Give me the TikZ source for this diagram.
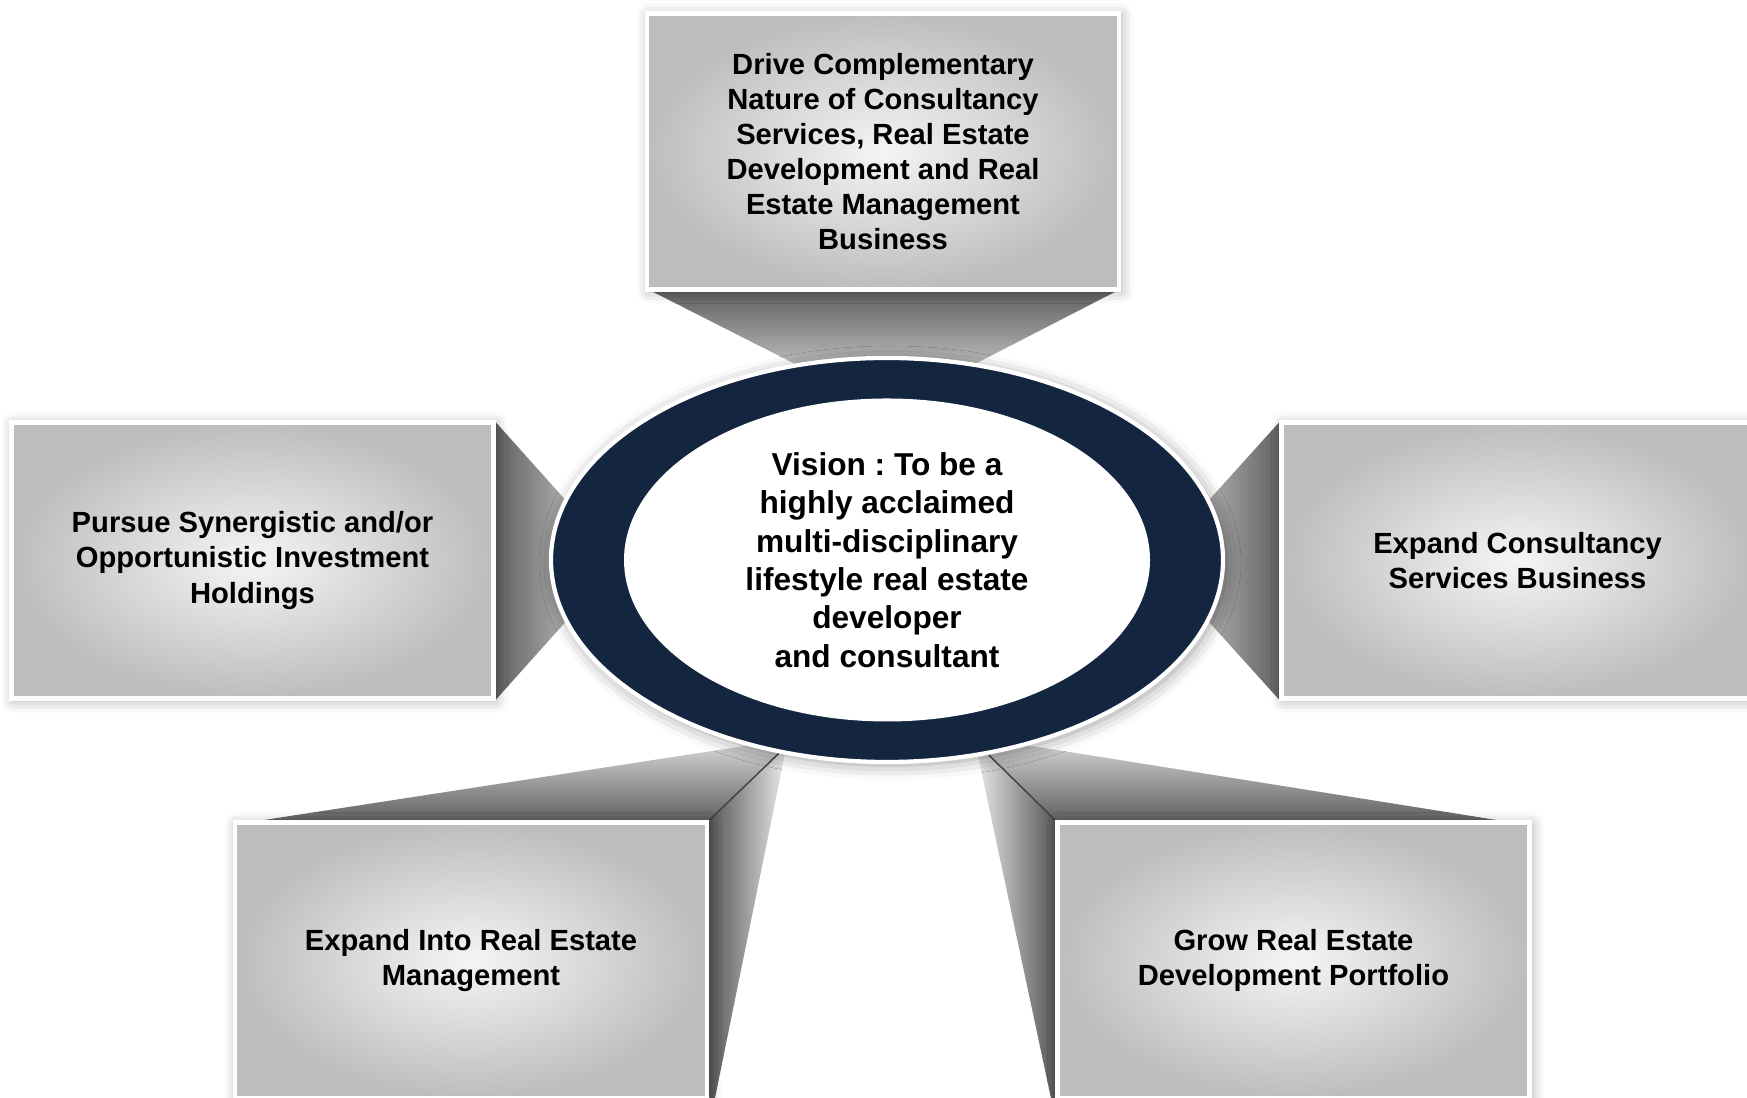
\documentclass[tikz,border=0pt]{standalone}
\usepackage{fontspec}
\setmainfont{Liberation Sans}
\frenchspacing
\usetikzlibrary{shapes.geometric,shadows.blur,backgrounds}
\definecolor{visionnavy}{RGB}{20,37,64}

\begin{document}
\begin{tikzpicture}[
    goal/.style={draw=white, line width=1.3pt, rectangle, minimum width=4.72cm, minimum height=2.76cm,
        inner color=black!4, outer color=black!26, align=center,
        font=\bfseries\fontsize{8.3}{10}\selectfont,
        blur shadow={shadow xshift=0.02cm, shadow yshift=-0.02cm, shadow blur radius=0.12cm, shadow opacity=35}},
    fold/.style={draw=black!75, line width=0.4pt}
]
\useasboundingbox (0,0) rectangle (17.47,10.98);

% Goal boxes
\node[goal] (drive) at (8.83,9.465) {Drive Complementary\\Nature of Consultancy\\Services, Real Estate\\Development and Real\\Estate Management\\Business};
\node[goal, minimum width=4.82cm] (pursue) at (2.525,5.375) {Pursue Synergistic and/or\\Opportunistic Investment\\Holdings};
\node[goal] (consult) at (15.175,5.375) {Expand Consultancy\\Services Business};
\node[goal] (manage) at (4.71,1.375) {Expand Into Real Estate\\Management};
\node[goal] (grow) at (12.935,1.375) {Grow Real Estate\\Development Portfolio};

% Vision ellipse
\node[ellipse, fill=visionnavy, draw=white, line width=1.2pt, minimum width=6.72cm, minimum height=4.04cm,
    blur shadow={shadow xshift=0.03cm, shadow yshift=-0.03cm, shadow blur radius=0.15cm, shadow opacity=40}] (ring) at (8.87,5.38) {};
\node[ellipse, fill=white, minimum width=5.26cm, minimum height=3.23cm] (vision) at (ring.center) {};
\node[align=center, font=\bfseries\fontsize{9}{10.9}\selectfont] (visiontext) at (vision.center)
    {Vision : To be a\\highly acclaimed\\multi-disciplinary\\lifestyle real estate\\developer\\and consultant};

% Funnels behind everything
\begin{scope}[on background layer]
\coordinate (driveL) at (8.66,6.98);
\coordinate (driveR) at (9.05,6.98);
\coordinate (pursueTip) at (6.20,5.37);
\coordinate (consultTip) at (11.54,5.37);
\coordinate (manageTop) at (7.86,3.584);
\coordinate (manageTip) at (7.865,3.52);
\coordinate (manageFoot) at (7.14,-0.05);
\coordinate (growTop) at (9.75,3.61);
\coordinate (growTip) at (9.75,3.565);
\coordinate (growFoot) at (10.52,-0.05);

\shade[top color=black!62, bottom color=black!10]
    ([xshift=0.08cm]drive.south west) -- ([xshift=-0.06cm]drive.south east) -- (driveR) -- (driveL) -- cycle;
\shade[left color=black!62, right color=black!10]
    ([yshift=-0.02cm]pursue.north east) -- (pursueTip) -- ([yshift=0.01cm]pursue.south east) -- cycle;
\shade[right color=black!62, left color=black!10]
    ([yshift=-0.02cm]consult.north west) -- (consultTip) -- ([yshift=0.01cm]consult.south west) -- cycle;

\shade[top color=black!14, bottom color=black!62]
    ([xshift=0.3cm]manage.north west) -- (manageTop) -- (manageTip) -- (manage.north east) -- cycle;
\shade[left color=black!66, right color=black!8]
    (manage.north east) -- (manageTip) -- (manageFoot) -- (manage.south east) -- cycle;
\draw[fold] (manage.north east) -- (manageTip);

\shade[top color=black!14, bottom color=black!62]
    ([xshift=-0.34cm]grow.north east) -- (growTop) -- (growTip) -- (grow.north west) -- cycle;
\shade[right color=black!66, left color=black!8]
    (grow.north west) -- (growTip) -- (growFoot) -- (grow.south west) -- cycle;
\draw[fold] (grow.north west) -- (growTip);
\end{scope}
\end{tikzpicture}
\end{document}
